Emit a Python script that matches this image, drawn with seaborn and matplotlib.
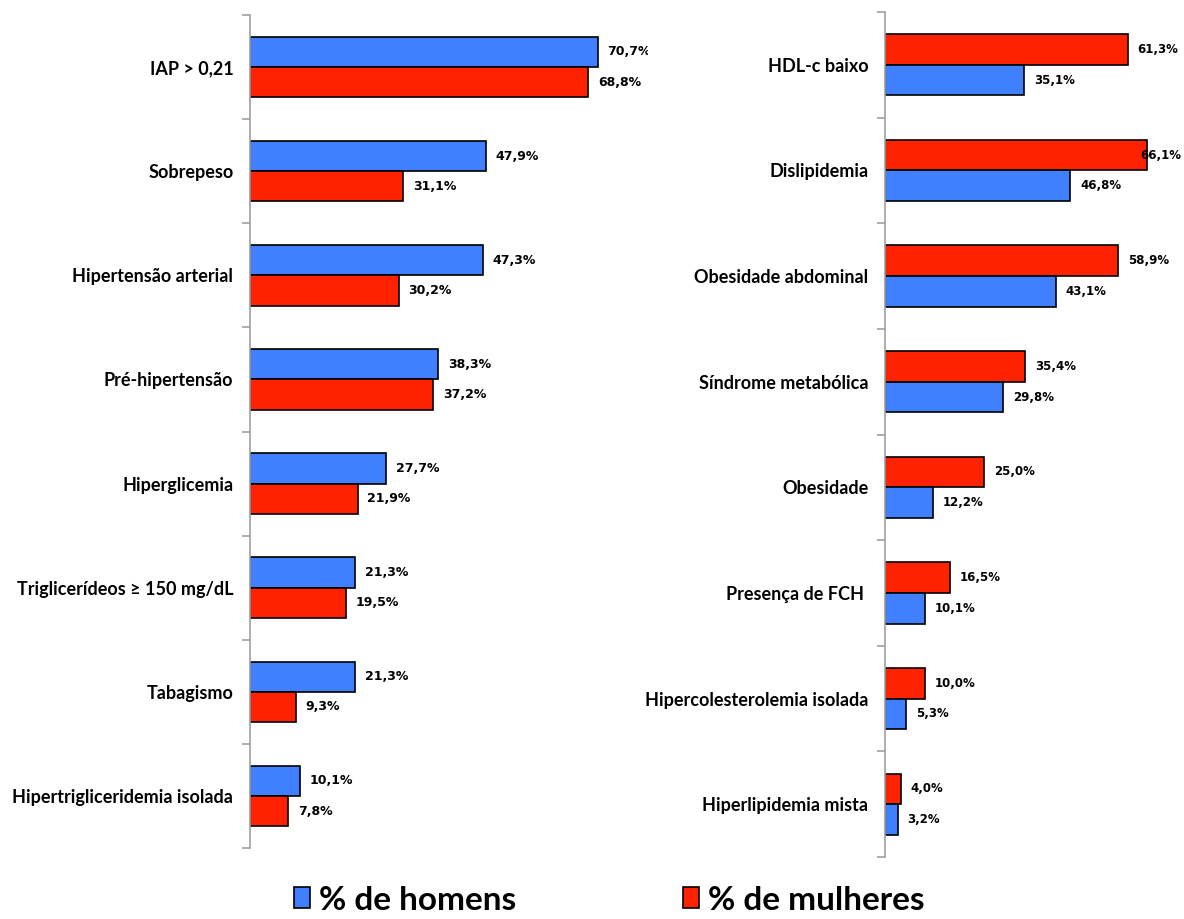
import matplotlib
matplotlib.use("Agg")
import matplotlib.pyplot as plt
import seaborn as sns
import pandas as pd
from matplotlib.patches import Patch

# ---- data ----
left_cats = ["IAP > 0,21", "Sobrepeso", "Hipertensão arterial", "Pré-hipertensão",
             "Hiperglicemia", "Triglicerídeos ≥ 150 mg/dL", "Tabagismo",
             "Hipertrigliceridemia isolada"]
left_homens = [70.7, 47.9, 47.3, 38.3, 27.7, 21.3, 21.3, 10.1]
left_mulheres = [68.8, 31.1, 30.2, 37.2, 21.9, 19.5, 9.3, 7.8]

right_cats = ["HDL-c baixo", "Dislipidemia", "Obesidade abdominal", "Síndrome metabólica",
              "Obesidade", "Presença de FCH ", "Hipercolesterolemia isolada",
              "Hiperlipidemia mista"]
right_mulheres = [61.3, 66.1, 58.9, 35.4, 25.0, 16.5, 10.0, 4.0]
right_homens = [35.1, 46.8, 43.1, 29.8, 12.2, 10.1, 5.3, 3.2]

H = "% de homens"
M = "% de mulheres"
BLUE = "#4080FF"
RED = "#FF2200"

sns.set_theme(style="white")
plt.rcParams["font.family"] = ["Lato", "DejaVu Sans"]
plt.rcParams["text.color"] = "black"

fig = plt.figure(figsize=(11.84, 9.19), dpi=100)
W, Hpx = 1184, 919


def make_df(cats, a, b, na, nb):
    rows = []
    for c, va, vb in zip(cats, a, b):
        rows.append({"cat": c, "val": va, "sexo": na})
        rows.append({"cat": c, "val": vb, "sexo": nb})
    return pd.DataFrame(rows)


def draw(ax, df, cats, order, xmax, fs_val, clip_right=None):
    sns.barplot(data=df, y="cat", x="val", hue="sexo", hue_order=order, order=cats,
                palette={H: BLUE, M: RED}, saturation=1, orient="h", width=0.58,
                edgecolor="black", linewidth=1.2, legend=False, ax=ax, errorbar=None)
    ax.set_xlim(0, xmax)
    ax.set_ylim(len(cats) - 0.5, -0.5)
    ax.set_xlabel("")
    ax.set_ylabel("")
    ax.set_xticks([])
    for s in ["top", "right", "bottom"]:
        ax.spines[s].set_visible(False)
    ax.spines["left"].set_color("#a0a0a0")
    ax.spines["left"].set_linewidth(1.2)
    ax.set_yticks(range(len(cats)))
    ax.set_yticklabels(cats, fontsize=13, fontweight="bold", color="black")
    ax.tick_params(axis="y", which="major", length=0, pad=12)
    ax.set_yticks([i - 0.5 for i in range(len(cats) + 1)], minor=True)
    ax.tick_params(axis="y", which="minor", length=6, width=1.2, color="#a0a0a0",
                   direction="out", left=True)
    for cont in ax.containers:
        for p in cont:
            v = p.get_width()
            y = p.get_y() + p.get_height() / 2
            txt = f"{v:.1f}".replace(".", ",") + "%"
            if clip_right is not None and v + 12.5 > clip_right:
                ax.annotate(txt, (clip_right, y), ha="right", va="center",
                            fontsize=fs_val, fontweight="bold", family="DejaVu Sans",
                            color="black", annotation_clip=False)
            else:
                ax.annotate(txt, (v, y), xytext=(7, 0), textcoords="offset points",
                            ha="left", va="center", fontsize=fs_val, color="black",
                            fontweight="bold", family="DejaVu Sans", clip_on=True)


# left axes
axL = fig.add_axes([250 / W, 1 - 848 / Hpx, (648 - 250) / W, (848 - 15) / Hpx])
dfL = make_df(left_cats, left_homens, left_mulheres, H, M)
draw(axL, dfL, left_cats, [H, M], (648 - 250) / 4.92, 9)

# right axes
axR = fig.add_axes([885 / W, 1 - 857 / Hpx, (1184 - 885) / W, (857 - 12) / Hpx])
dfR = make_df(right_cats, right_mulheres, right_homens, M, H)
draw(axR, dfR, right_cats, [M, H], (1184 - 885) / 3.96, 8.5,
     clip_right=(1181 - 885) / 3.96)

handles = [Patch(facecolor=BLUE, edgecolor="black", linewidth=1.2, label=H),
           Patch(facecolor=RED, edgecolor="black", linewidth=1.2, label=M)]
leg = fig.legend(handles=handles, loc="center", bbox_to_anchor=(609 / W, 1 - 900 / Hpx),
                 ncol=2, frameon=False, prop={"family": "Lato", "weight": "bold", "size": 24},
                 handlelength=0.5, handleheight=0.6, handletextpad=0.25, columnspacing=5.0,
                 borderaxespad=0, borderpad=0)

fig.savefig("out.png", dpi=100)
